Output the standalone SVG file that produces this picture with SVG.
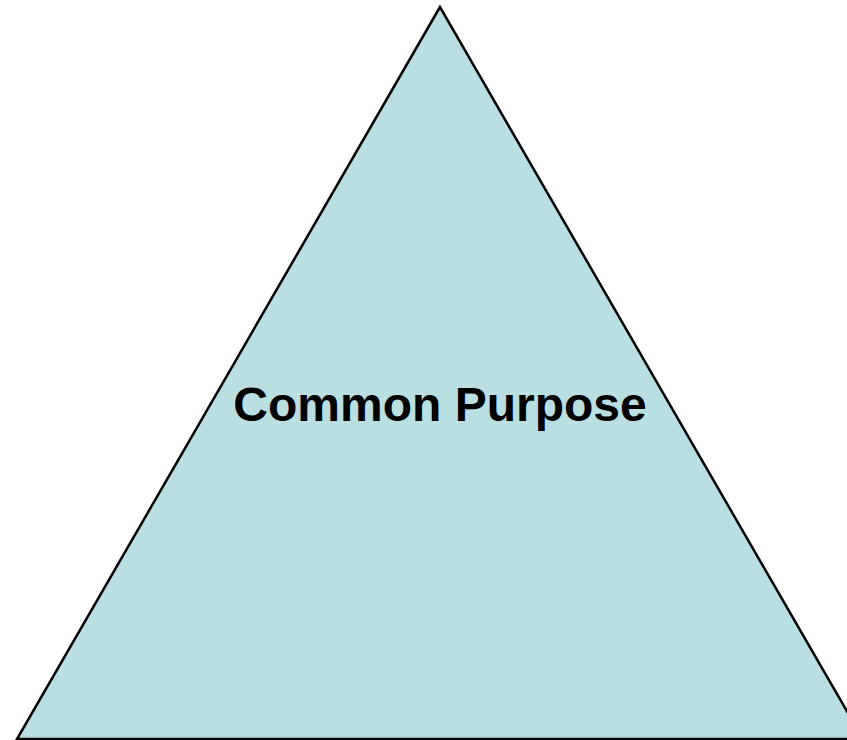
<svg xmlns="http://www.w3.org/2000/svg" width="847" height="740" viewBox="0 0 847 740">
<style>
.tri{fill:#badfe3;stroke:#000;stroke-width:2.5;stroke-linejoin:miter}
.lbl{font-family:"Liberation Sans",Arial,sans-serif;font-weight:bold;font-size:48px;fill:#000;text-anchor:middle}
</style>
<rect width="847" height="740" fill="#fff"/>
<g id="triangle">
<polygon class="tri" points="440,7 17,739 863,739"/>
<text class="lbl" x="440" y="421">Common Purpose</text>
</g>
<g id="connectors"/>
</svg>
